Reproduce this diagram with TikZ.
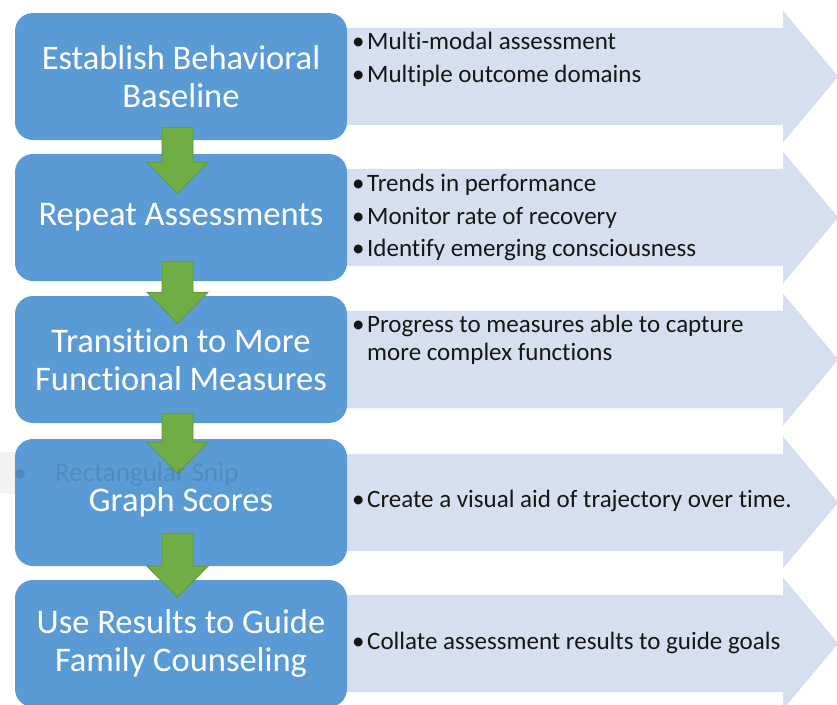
\documentclass[tikz,border=0pt]{standalone}
\usepackage{fontspec}
\setmainfont{Carlito}[Ligatures=NoCommon]
\usetikzlibrary{calc}

\definecolor{stepblue}{HTML}{5B9BD5}
\definecolor{detailfill}{HTML}{D6DFEF}
\definecolor{flowgreen}{HTML}{70AD47}
\definecolor{flowgreenedge}{HTML}{5C9A38}
\definecolor{bullettext}{HTML}{161616}

\pgfdeclarelayer{background}
\pgfsetlayers{background,main}

% light chevron-ended band behind a step box
\newcommand\detailband[1]{%
  \fill[detailarrow]
    ($(#1.north east)+(-10,15)$) -- ($(#1.north east)+(436,15)$)
    -- ($(#1.north east)+(436,-2)$) -- ($(#1.east)+(491,0)$)
    -- ($(#1.south east)+(436,2)$) -- ($(#1.south east)+(436,-15)$)
    -- ($(#1.south east)+(-10,-15)$) -- cycle;}

% green block arrow leaving the bottom of a step box
% #1 box, #2 start above its bottom edge, #3 total length
\newcommand\flowstep[3]{%
  \draw[flowarrow] ($(#1.south)+(-19,-#2)$) -- ++(31,0) -- ++(0,#3-31)
    -- ++(15,0) -- ++(-30.5,31) -- ++(-30.5,-31) -- ++(15,0) -- cycle;}

\newcommand\bul{\makebox[15pt][l]{•}}

\begin{document}
\begin{tikzpicture}[x=1pt,y=-1pt,
  stepbox/.style={fill=stepblue, rounded corners=18pt, minimum width=332pt,
    minimum height=127pt, inner sep=0pt, text=white, align=center,
    font=\fontsize{34.5}{38}\selectfont},
  detailarrow/.style={fill=detailfill},
  flowarrow/.style={fill=flowgreen, draw=flowgreenedge, line width=0.8pt, line join=miter},
  item/.style={anchor=base west, inner sep=0pt, text=bullettext,
    font=\fontsize{25}{28}\selectfont},
  snip/.style={anchor=base west, inner sep=0pt, text=black, text opacity=0.11,
    font=\fontsize{27}{30}\selectfont},
]
\clip (0,0) rectangle (837,704);

% step boxes
\path
  (181,76.5)  node[stepbox] (b1) {Establish Behavioral\\Baseline}
  (181,217.5) node[stepbox] (b2) {Repeat Assessments}
  (181,359.5) node[stepbox] (b3) {Transition to More\\Functional Measures}
  (181,502.5) node[stepbox] (b4) {Graph Scores}
  (181,643.5) node[stepbox] (b5) {Use Results to Guide\\Family Counseling};

% page, faint leftover strip and the detail bands, all under the boxes
\begin{pgfonlayer}{background}
  \fill[white] (0,0) rectangle (837,704);
  \fill[black, opacity=0.05] (0,452) rectangle (330,494);
  \detailband{b1}
  \detailband{b2}
  \detailband{b3}
  \detailband{b4}
  \detailband{b5}
\end{pgfonlayer}

% detail bullets
\node[item] (d1a) at (352,49)  {\bul Multi-modal assessment};
\node[item] (d1b) at (352,82)  {\bul Multiple outcome domains};
\node[item] (d2a) at (352,191) {\bul Trends in performance};
\node[item] (d2b) at (352,224) {\bul Monitor rate of recovery};
\node[item] (d2c) at (352,256) {\bul Identify emerging consciousness};
\node[item] (d3a) at (352,332) {\bul Progress to measures able to capture};
\node[item] (d3b) at (367,360) {more complex functions};
\node[item] (d4a) at (352,507) {\bul Create a visual aid of trajectory over time.};
\node[item] (d5a) at (352,649) {\bul Collate assessment results to guide goals};

% flow arrows between the steps
\flowstep{b1}{13}{66}
\flowstep{b2}{20}{62}
\flowstep{b3}{10}{60}
\flowstep{b4}{33}{64}

% faint leftover label
\fill[black, opacity=0.11] (20,474) circle (5);
\node[snip] (snipt) at (55,481) {Rectangular Snip};
\end{tikzpicture}
\end{document}
